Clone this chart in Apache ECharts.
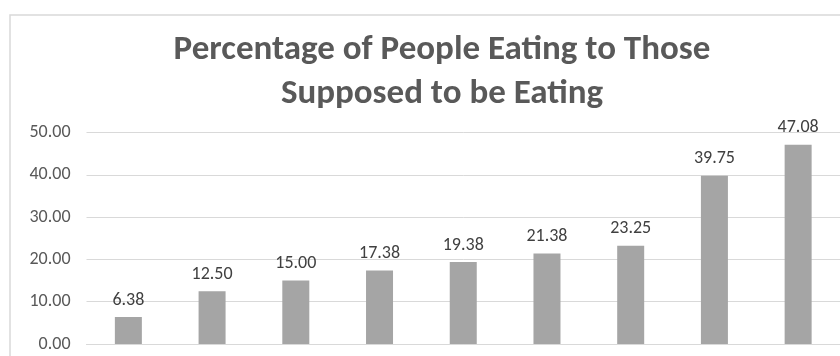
<!DOCTYPE html>
<html>
<head>
<meta charset="utf-8">
<style>
html,body{margin:0;padding:0;background:#fff;}
#chart{width:840px;height:356px;}
</style>
<script src="https://cdn.jsdelivr.net/npm/echarts@6/dist/echarts.min.js"></script>
</head>
<body>
<div id="chart"></div>
<script>
var titleText = 'Percentage of People Eating to Those\nSupposed to be Eating';
var categories = ['1', '2', '3', '4', '5', '6', '7', '8', '9'];
var values = [6.38, 12.50, 15.00, 17.38, 19.38, 21.38, 23.25, 39.75, 47.08];
var yTicks = [0, 10, 20, 30, 40, 50];

var FONT = 'Carlito, Calibri, "Liberation Sans Narrow", "Open Sans", sans-serif';
var chart = echarts.init(document.getElementById('chart'));
chart.setOption({
  animation: false,
  graphic: [{
    type: 'rect',
    left: 7.5, top: 12.5,
    shape: { width: 900, height: 400 },
    style: { fill: 'none', stroke: '#d9d9d9', lineWidth: 1.5 },
    silent: true, z: -1
  }],
  title: {
    text: titleText,
    left: 437, textAlign: 'center', top: 23,
    textStyle: { fontFamily: FONT, fontSize: 35, fontWeight: 'bold', color: '#595959', lineHeight: 44 }
  },
  grid: { left: 86.5, right: 0, top: 132.5, bottom: 12, containLabel: false },
  xAxis: {
    type: 'category',
    data: categories,
    axisLine: { show: true, lineStyle: { color: '#d9d9d9', width: 1 } },
    axisTick: { show: false },
    axisLabel: { show: false }
  },
  yAxis: {
    type: 'value',
    min: yTicks[0], max: yTicks[yTicks.length - 1], interval: 10,
    axisLine: { show: false },
    axisTick: { show: false },
    splitLine: { lineStyle: { color: '#d9d9d9', width: 1 } },
    axisLabel: {
      margin: 16,
      fontFamily: FONT, fontSize: 18, color: '#595959',
      formatter: function (v) { return v.toFixed(2); }
    }
  },
  series: [{
    type: 'bar',
    data: values,
    barWidth: 27,
    itemStyle: { color: '#a5a5a5' },
    label: {
      show: true, position: 'top', distance: 8,
      fontFamily: FONT, fontSize: 18, color: '#404040',
      formatter: function (p) { return p.value.toFixed(2); }
    }
  }]
});
</script>
</body>
</html>
